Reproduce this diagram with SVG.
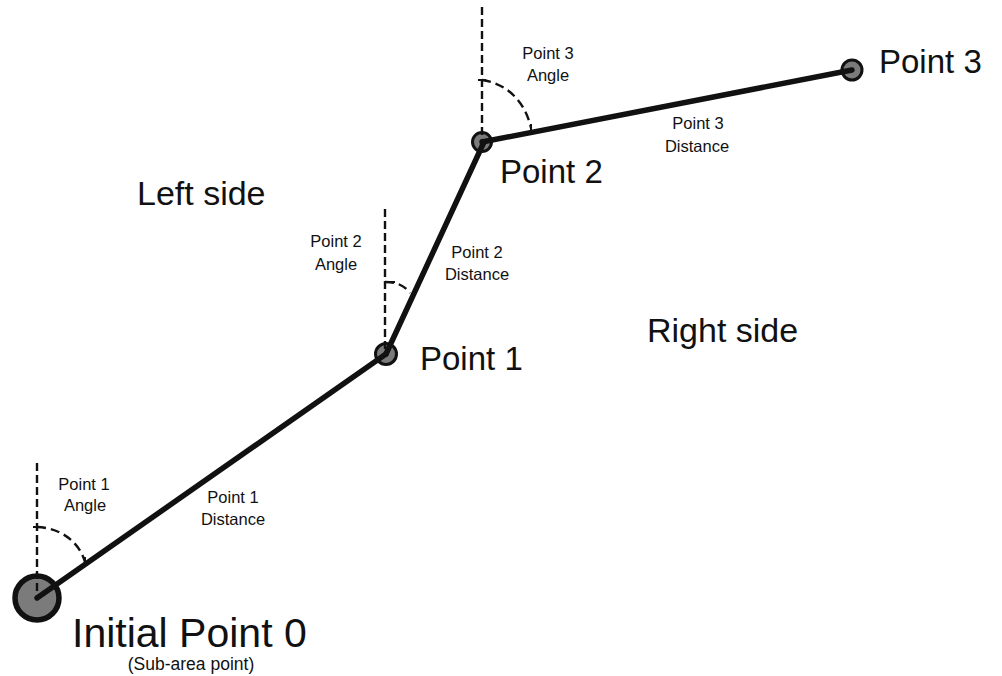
<svg xmlns="http://www.w3.org/2000/svg" width="1002" height="676" viewBox="0 0 1002 676">
<style>
.bg{fill:#fff}
.pt{fill:#7b7b7b;stroke:#111}
.seg{stroke:#111;stroke-width:5.5;fill:none;stroke-linecap:round}
.ref{stroke:#111;stroke-width:2.4;fill:none;stroke-dasharray:8 4}
.arc{stroke:#111;stroke-width:2.4;fill:none;stroke-dasharray:9 5}
.tick{stroke:#111;stroke-width:2;fill:none}
text{font-family:"Liberation Sans",Arial,sans-serif;fill:#111}
.big{font-size:33px}
.side{font-size:34px}
.lbl{font-size:16.5px;text-anchor:middle}
</style>
<rect class="bg" x="0" y="0" width="1002" height="676"/>
<g id="node-p0">
<circle class="pt" cx="37" cy="598" r="22" stroke-width="5.5"/>
<text x="72" y="647" font-size="41">Initial Point 0</text>
<text x="191" y="670" font-size="17.5" text-anchor="middle">(Sub-area point)</text>
</g>
<g id="node-p1">
<circle class="pt" cx="386" cy="354" r="10.5" stroke-width="3"/>
<text class="big" x="420" y="370">Point 1</text>
</g>
<g id="node-p2">
<circle class="pt" cx="482" cy="142" r="9.5" stroke-width="3"/>
<text class="big" x="500" y="183">Point 2</text>
</g>
<g id="node-p3">
<circle class="pt" cx="852" cy="70" r="10" stroke-width="3"/>
<text class="big" x="879" y="73">Point 3</text>
</g>
<g id="regions">
<text class="side" x="137" y="205">Left side</text>
<text class="side" x="647" y="342">Right side</text>
</g>
<g id="connectors">
<line class="ref" x1="37" y1="463" x2="37" y2="598"/>
<line class="ref" x1="385" y1="209" x2="385" y2="354"/>
<line class="ref" x1="482" y1="7" x2="482" y2="142"/>
<path class="arc" d="M37,527 C60,528 79,541 85,562"/>
<path class="tick" d="M33,527 H41 M85,557 V566"/>
<path class="arc" d="M385,282 C396,282 404,285 410,293" stroke-dasharray="10 5"/>
<path class="tick" d="M385,282 H395"/>
<path class="arc" d="M482,80 C505,83 525,100 531,128"/>
<path class="tick" d="M478,80 H486 M531,124 V134"/>
<line class="seg" x1="37" y1="598" x2="386" y2="354"/>
<line class="seg" x1="386" y1="354" x2="484" y2="142"/>
<line class="seg" x1="482" y1="142" x2="852" y2="70"/>
</g>
<g id="labels">
<text class="lbl" x="84" y="490">Point 1</text>
<text class="lbl" x="85" y="511">Angle</text>
<text class="lbl" x="233" y="503">Point 1</text>
<text class="lbl" x="233" y="525">Distance</text>
<text class="lbl" x="336" y="247">Point 2</text>
<text class="lbl" x="336" y="270">Angle</text>
<text class="lbl" x="477" y="258">Point 2</text>
<text class="lbl" x="477" y="280">Distance</text>
<text class="lbl" x="548" y="59">Point 3</text>
<text class="lbl" x="548" y="81">Angle</text>
<text class="lbl" x="698" y="129">Point 3</text>
<text class="lbl" x="697" y="152">Distance</text>
</g>
</svg>
